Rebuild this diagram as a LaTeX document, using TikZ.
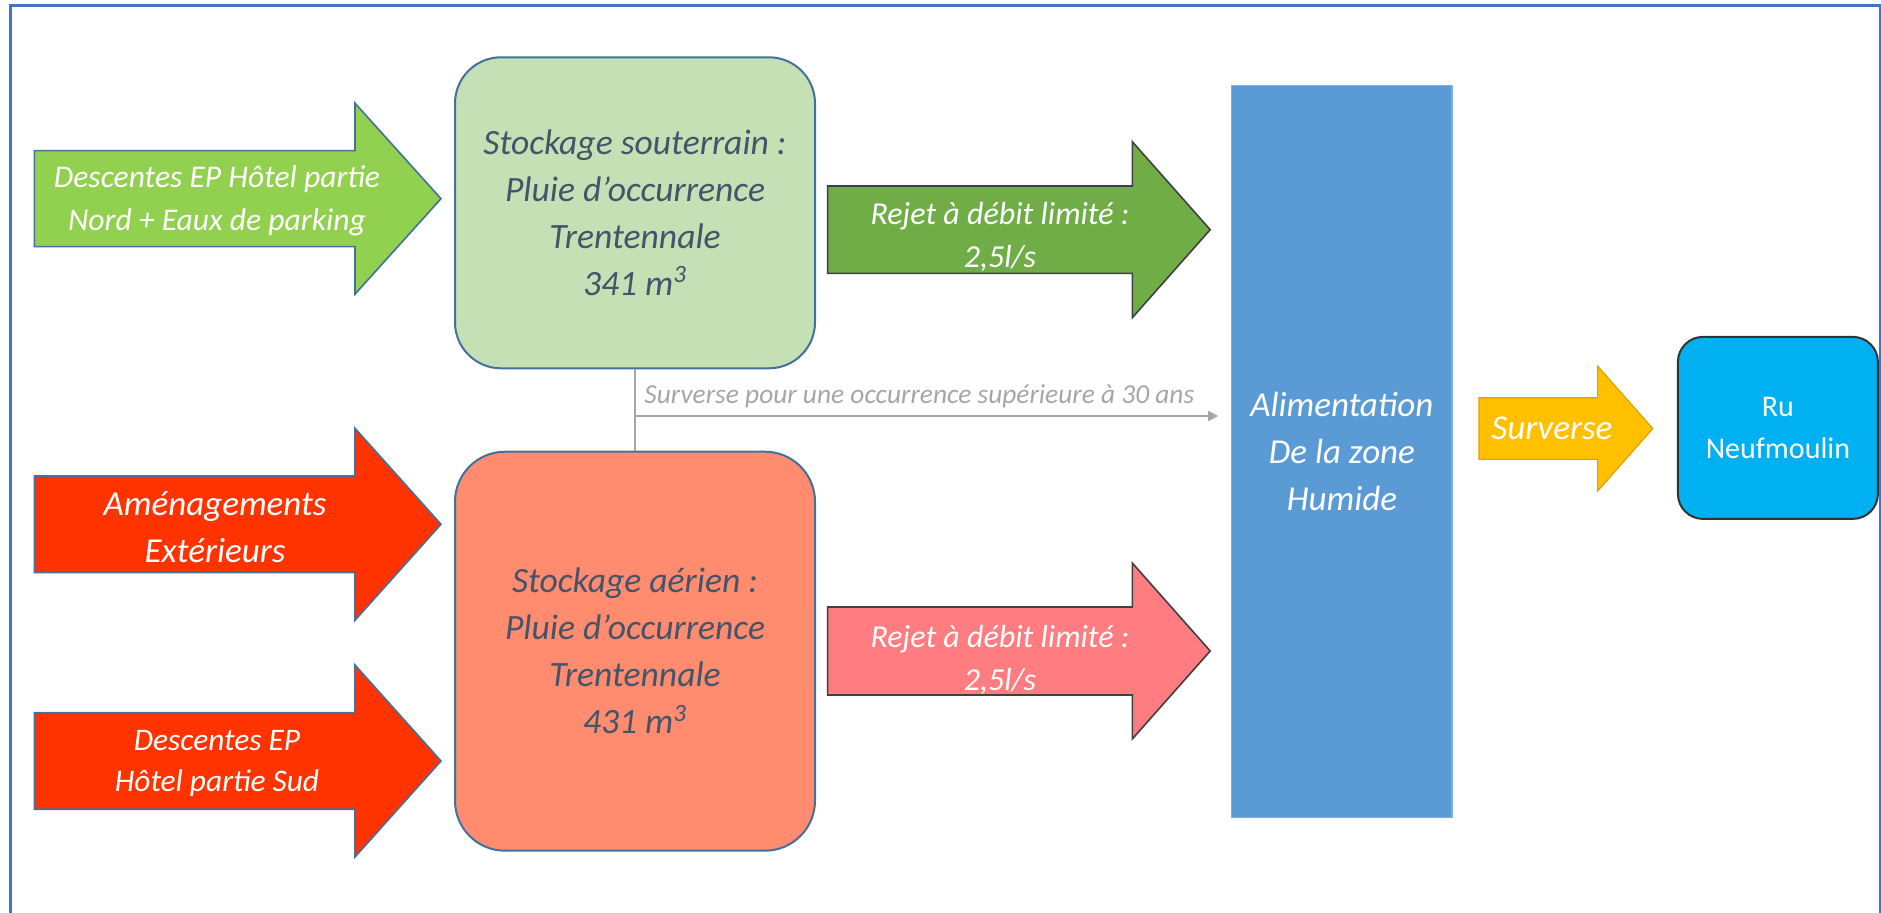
\documentclass[tikz,border=0pt]{standalone}
\usepackage{fontspec}
\setmainfont{Carlito}
\usetikzlibrary{arrows.meta}
\definecolor{frameblue}{HTML}{4472C4}
\definecolor{outblue}{HTML}{41719C}
\definecolor{lgreen}{HTML}{92D050}
\definecolor{paleg}{HTML}{C5E0B4}
\definecolor{dgreen}{HTML}{70AD47}
\definecolor{hotred}{HTML}{FF3300}
\definecolor{salmon}{HTML}{FF8C6E}
\definecolor{pinkr}{HTML}{FF7C80}
\definecolor{zoneblue}{HTML}{5B9BD5}
\definecolor{amber}{HTML}{FFC000}
\definecolor{cyanbox}{HTML}{00B0F0}
\definecolor{slate}{HTML}{44546A}
\definecolor{midgray}{HTML}{A6A6A6}
\newcommand\barrow[7]{\draw[#1] ({#2},{#5-#6}) -- ({#3},{#5-#6}) -- ({#3},{#5-#7}) -- ({#4},{#5}) -- ({#3},{#5+#7}) -- ({#3},{#5+#6}) -- ({#2},{#5+#6}) -- cycle;}
\begin{document}
\begin{tikzpicture}[x=0.5pt,y=-0.5pt,
  txt/.style={inner sep=0pt, align=center, text=white},
  inarrowg/.style={fill=lgreen, draw=outblue, line width=0.8pt},
  inarrowr/.style={fill=hotred, draw=outblue, line width=0.8pt},
  outarrowg/.style={fill=dgreen, draw=black!75, line width=0.8pt},
  outarrowp/.style={fill=pinkr, draw=black!75, line width=0.8pt},
  overarrow/.style={fill=amber, draw=amber!85!black, line width=0.6pt},
  storebox/.style={draw=outblue, line width=1pt, rounded corners=23pt, minimum width=180pt, inner sep=0pt, align=center, text=slate, font=\itshape\fontsize{17.8}{23.5}\selectfont},
  graylink/.style={draw=midgray, line width=0.8pt}
]
\useasboundingbox (0,0) rectangle (1881,913);
% frame
\draw[frameblue, line width=1.5pt] (10,913) -- (10,6) -- (1880,6) -- (1880,913);

% storage boxes
\node[storebox, fill=paleg, minimum height=155.5pt] (gbox) at (635,212.8)
  {Stockage souterrain :\\Pluie d’occurrence\\Trentennale\\341 m\textsuperscript{3}};
\node[storebox, fill=salmon, minimum height=199.5pt, rounded corners=25pt] (rbox) at (635,651.2)
  {Stockage aérien :\\Pluie d’occurrence\\Trentennale\\431 m\textsuperscript{3}};

% wetland
\node[fill=zoneblue, draw=zoneblue!80!white, line width=0.8pt, minimum width=110.3pt, minimum height=366pt, inner sep=0pt, align=center, text=white, font=\itshape\fontsize{17.5}{23.5}\selectfont] (zone) at (1341.9,451.5)
  {Alimentation\\De la zone\\Humide};

% river
\node[fill=cyanbox, draw=black!80, line width=1pt, rounded corners=12.5pt, minimum width=100pt, minimum height=91pt, inner sep=0pt, align=center, text=white, font=\fontsize{15}{21}\selectfont] (ru) at (1777.9,427.9)
  {Ru\\Neufmoulin};

% incoming arrows
\barrow{inarrowg}{34.4}{355}{441}{198.7}{48}{95.5}
\node[txt, font=\itshape\fontsize{15.8}{21.5}\selectfont] (in1) at (217,201) {Descentes EP Hôtel partie\\Nord + Eaux de parking};
\barrow{inarrowr}{34.4}{355}{441}{524.3}{48.3}{96}
\node[txt, font=\itshape\fontsize{17.5}{23.5}\selectfont] (in2) at (215,527.5) {Aménagements\\Extérieurs};
\barrow{inarrowr}{34.4}{355}{441}{761}{48.3}{96}
\node[txt, font=\itshape\fontsize{15.7}{20.5}\selectfont] (in3) at (217,763) {Descentes EP\\Hôtel partie Sud};

% outgoing limited-flow arrows
\barrow{outarrowg}{827.6}{1132.3}{1210.2}{229.7}{43.7}{88}
\node[txt, font=\itshape\fontsize{16}{21.5}\selectfont] (out1) at (1000,237) {Rejet à débit limité :\\2,5l/s};
\barrow{outarrowp}{827.6}{1132.3}{1210.2}{651}{44}{88}
\node[txt, font=\itshape\fontsize{16}{21.5}\selectfont] (out2) at (1000,659.5) {Rejet à débit limité :\\2,5l/s};

% overflow to river
\barrow{overarrow}{1479}{1597.6}{1652.8}{428.6}{30.8}{62.5}
\node[inner sep=0pt, text=white, font=\itshape\fontsize{17.5}{21}\selectfont, anchor=base] (surv) at (1552,440) {Surverse};

% gray overflow link
\draw[graylink] (gbox.south) -- (rbox.north);
\coordinate (split) at (635,416);
\draw[graylink, -{Triangle[length=5pt,width=5pt]}] (split) -- ([xshift=-6.3pt]zone.west |- split);
\node[inner sep=0pt, anchor=base west, text=midgray, font=\itshape\fontsize{13.7}{15}\selectfont] (survlabel) at (644,404) {Surverse pour une occurrence supérieure à 30 ans};
\end{tikzpicture}
\end{document}
